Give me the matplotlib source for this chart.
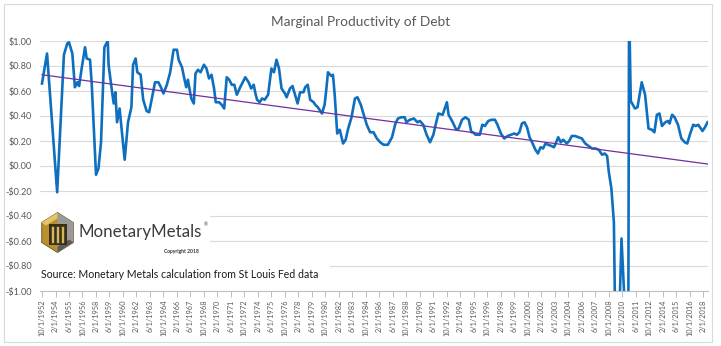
import numpy as np
import pandas as pd
import matplotlib
matplotlib.use("Agg")
import matplotlib.pyplot as plt
from matplotlib.patches import Rectangle, Polygon
from matplotlib import font_manager

plt.rcParams['font.family'] = ['Lato', 'DejaVu Sans']

# Marginal productivity of debt, dollars of GDP per dollar of new debt
months = [
    "1952-10", "1953-04", "1954-04", "1954-12", "1955-04", "1955-06", "1955-10",
    "1956-01", "1956-04", "1956-06", "1956-09", "1957-01", "1957-03", "1957-07",
    "1957-09", "1958-02", "1958-05", "1958-08", "1958-12", "1959-04", "1959-05",
    "1959-08", "1959-11", "1960-01", "1960-03", "1960-06", "1960-12", "1961-04",
    "1961-08", "1961-10", "1962-01", "1962-03", "1962-07", "1962-10", "1963-02",
    "1963-05", "1963-08", "1963-12", "1964-04", "1964-07", "1964-10", "1965-02",
    "1965-06", "1965-10", "1966-02", "1966-04", "1966-08", "1966-11", "1967-01",
    "1967-03", "1967-07", "1967-10", "1967-12", "1968-03", "1968-06", "1968-10",
    "1969-01", "1969-04", "1969-07", "1969-10", "1969-12", "1970-04", "1970-07",
    "1970-10", "1971-01", "1971-04", "1971-07", "1971-10", "1972-01", "1972-05",
    "1972-11", "1973-03", "1973-06", "1973-09", "1973-11", "1974-01", "1974-04",
    "1974-07", "1974-10", "1975-02", "1975-06", "1975-09", "1975-12", "1976-03",
    "1976-06", "1976-10", "1976-12", "1977-04", "1977-07", "1977-10", "1978-01",
    "1978-04", "1978-08", "1978-10", "1979-01", "1979-04", "1979-08", "1979-10",
    "1980-01", "1980-06", "1980-09", "1980-11", "1981-01", "1981-05", "1981-07",
    "1981-09", "1981-12", "1982-03", "1982-07", "1982-10", "1983-01", "1983-05",
    "1983-09", "1983-12", "1984-04", "1984-07", "1984-11", "1985-03", "1985-07",
    "1985-11", "1986-03", "1986-07", "1986-12", "1987-05", "1987-09", "1987-12",
    "1988-04", "1988-08", "1988-10", "1989-02", "1989-07", "1989-11", "1990-02",
    "1990-06", "1990-10", "1991-02", "1991-06", "1991-09", "1991-12", "1992-05",
    "1992-08", "1992-10", "1992-12", "1993-05", "1993-09", "1993-12", "1994-04",
    "1994-08", "1994-12", "1995-03", "1995-05", "1995-08", "1995-11", "1996-01",
    "1996-04", "1996-07", "1996-11", "1997-03", "1997-07", "1997-10", "1998-02",
    "1998-06", "1998-10", "1999-02", "1999-06", "1999-09", "1999-12", "2000-03",
    "2000-06", "2000-09", "2000-12", "2001-03", "2001-07", "2001-10", "2002-01",
    "2002-04", "2002-07", "2002-10", "2003-02", "2003-05", "2003-07", "2003-10",
    "2004-01", "2004-04", "2004-08", "2004-11", "2005-02", "2005-06", "2005-10",
    "2006-02", "2006-06", "2006-10", "2007-02", "2007-06", "2007-10", "2008-02",
    "2008-05", "2008-08", "2008-10", "2009-01", "2009-04", "2009-06", "2009-09",
    "2009-10", "2010-01", "2010-04", "2010-07", "2010-09", "2010-10", "2010-12",
    "2011-05", "2011-08", "2012-01", "2012-05", "2012-09", "2013-01", "2013-04",
    "2013-07", "2013-10", "2014-01", "2014-05", "2014-08", "2014-10", "2015-01",
    "2015-04", "2015-08", "2015-12", "2016-04", "2016-07", "2016-10", "2017-02",
    "2017-05", "2017-08", "2018-01", "2018-04", "2018-07",
]
mpd = [
    0.66, 0.90, -0.21, 0.89, 0.98, 0.99, 0.90,
    0.63, 0.67, 0.64, 0.78, 0.95, 0.86, 0.85,
    0.65, -0.07, -0.02, 0.19, 0.95, 1.00, 0.81,
    0.65, 0.50, 0.59, 0.35, 0.46, 0.05, 0.35,
    0.47, 0.81, 0.86, 0.75, 0.73, 0.53, 0.44,
    0.43, 0.53, 0.67, 0.67, 0.63, 0.58, 0.65,
    0.75, 0.93, 0.93, 0.85, 0.79, 0.69, 0.63,
    0.69, 0.54, 0.50, 0.74, 0.77, 0.75, 0.81,
    0.78, 0.70, 0.73, 0.62, 0.51, 0.51, 0.49,
    0.46, 0.71, 0.69, 0.65, 0.65, 0.57, 0.63,
    0.71, 0.67, 0.62, 0.65, 0.58, 0.53, 0.51,
    0.54, 0.53, 0.57, 0.78, 0.75, 0.85, 0.78,
    0.62, 0.58, 0.55, 0.62, 0.64, 0.57, 0.50,
    0.59, 0.59, 0.63, 0.65, 0.53, 0.51, 0.49,
    0.47, 0.42, 0.49, 0.61, 0.75, 0.72, 0.73,
    0.57, 0.26, 0.29, 0.18, 0.21, 0.30, 0.39,
    0.54, 0.55, 0.49, 0.42, 0.33, 0.27, 0.27,
    0.22, 0.19, 0.17, 0.17, 0.23, 0.34, 0.38,
    0.39, 0.39, 0.35, 0.37, 0.38, 0.35, 0.36,
    0.33, 0.25, 0.19, 0.25, 0.34, 0.42, 0.41,
    0.47, 0.51, 0.41, 0.35, 0.29, 0.30, 0.37,
    0.39, 0.37, 0.27, 0.27, 0.25, 0.25, 0.25,
    0.33, 0.32, 0.36, 0.37, 0.37, 0.33, 0.26,
    0.22, 0.24, 0.25, 0.26, 0.25, 0.27, 0.34,
    0.35, 0.31, 0.23, 0.19, 0.13, 0.10, 0.15,
    0.14, 0.18, 0.17, 0.16, 0.15, 0.18, 0.23,
    0.19, 0.21, 0.18, 0.20, 0.24, 0.24, 0.23,
    0.22, 0.18, 0.16, 0.14, 0.14, 0.13, 0.09,
    0.10, 0.08, -0.05, -0.18, -0.45, -1.50, -1.50,
    -1.30, -0.58, -1.00, -1.50, -1.50, 1.30, 0.52,
    0.46, 0.47, 0.67, 0.57, 0.30, 0.29, 0.27,
    0.41, 0.42, 0.32, 0.35, 0.36, 0.34, 0.41,
    0.39, 0.33, 0.22, 0.19, 0.18, 0.25, 0.33,
    0.32, 0.33, 0.28, 0.31, 0.35,
]
# linear trend of the series, value at first and last observation
trend_start = 0.73
trend_end = 0.016

y_ticks = [-1.0, -0.8, -0.6, -0.4, -0.2, 0.0, 0.2, 0.4, 0.6, 0.8, 1.0]
x_tick_first = "1952-10-01"
x_tick_count = 50

dates = pd.to_datetime(months)
tick_dates = pd.date_range(x_tick_first, periods=x_tick_count, freq="16MS")

# narrow face for the crowded date labels if one is around
installed = {f.name for f in font_manager.fontManager.ttflist}
narrow = "Liberation Sans Narrow" if "Liberation Sans Narrow" in installed else "Lato"
x_lab_size = 6.7 if narrow != "Lato" else 5.3

W, H = 721, 346
fig = plt.figure(figsize=(W / 100, H / 100), dpi=100)
ax = fig.add_axes([40 / W, 1 - 291 / H, 668 / W, 250 / H])

grey_txt = "#595959"
ax.plot(dates, mpd, color="#0f6fbf", lw=1.9, solid_joinstyle="round", zorder=3)
ax.plot([dates[0], dates[-1]], [trend_start, trend_end], color="#7030a0", lw=0.9, zorder=4)

ax.set_ylim(-1, 1)
ax.set_xlim(pd.Timestamp("1952-07-21"), pd.Timestamp("2018-07-19"))
ax.set_yticks(y_ticks)
ax.set_yticklabels([("-$%.2f" % abs(v)) if v < 0 else ("$%.2f" % v) for v in y_ticks])
ax.set_xticks(tick_dates)
ax.set_xticklabels([f"{d.month}/1/{d.year}" for d in tick_dates], rotation=90,
                   family=narrow)
ax.yaxis.grid(True, color="#d9d9d9", lw=0.8)
ax.set_axisbelow(True)
for s in ["top", "right", "left"]:
    ax.spines[s].set_visible(False)
ax.spines["bottom"].set_color("#bfbfbf")
ax.spines["bottom"].set_linewidth(0.8)
ax.tick_params(axis="y", length=0, labelsize=6.6, labelcolor=grey_txt, pad=6)
ax.tick_params(axis="x", length=4, width=0.7, color="#bfbfbf", labelsize=x_lab_size,
               labelcolor=grey_txt, pad=2)

# overlay in pixel coordinates for border, title, logo and source note
ov = fig.add_axes([0, 0, 1, 1], zorder=5)
ov.set_xlim(0, W)
ov.set_ylim(H, 0)
ov.axis("off")
ov.patch.set_alpha(0)

ov.add_patch(Rectangle((4, 4), 708, 338, fill=False, ec="#d9d9d9", lw=0.8))
ov.text(361, 22, "Marginal Productivity of Debt", ha="center", va="center",
        fontsize=9.8, color=grey_txt)

ov.add_patch(Rectangle((40, 205), 170, 53, fc="white", ec="none"))
ov.add_patch(Rectangle((40, 260), 290, 29, fc="white", ec="none"))

# hexagon logo
cx, cy, hw, hh = 57.5, 232.5, 15.8, 20
hexagon = [(cx, cy - hh), (cx + hw, cy - hh / 2), (cx + hw, cy + hh / 2),
           (cx, cy + hh), (cx - hw, cy + hh / 2), (cx - hw, cy - hh / 2)]
ov.add_patch(Polygon(hexagon, closed=True, fc="#b8912e", ec="#6b5418", lw=0.6))
ov.add_patch(Polygon([(cx, cy - hh), (cx + hw, cy - hh / 2), (cx + hw, cy + hh / 2),
                      (cx, cy + hh)], closed=True, fc="#9a9a9a", ec="none"))
ov.add_patch(Polygon([(cx - hw, cy - hh / 2), (cx, cy - hh), (cx, cy - hh + 6),
                      (cx - hw + 4, cy - hh / 2 + 3)], closed=True, fc="#e3c46a", ec="none"))
ov.add_patch(Polygon([(cx + hw, cy + hh / 2), (cx, cy + hh), (cx, cy + hh - 6),
                      (cx + hw - 4, cy + hh / 2 - 3)], closed=True, fc="#5c5c5c", ec="none"))
inner = [(cx - 9, cy - 9), (cx + 9, cy - 9), (cx + 9, cy + 12), (cx - 9, cy + 12)]
ov.add_patch(Polygon(inner, closed=True, fc="#3a2e12", ec="none"))
for bx in [cx - 6.5, cx - 1.5, cx + 3.5]:
    ov.add_patch(Rectangle((bx, cy - 7), 3, 17, fc="#d8b657", ec="#2a2a2a", lw=0.4))

ov.text(79, 237.5, "MonetaryMetals", fontsize=12.2, color="#3c3c3c", va="baseline")
ov.text(204, 225, "®", fontsize=3.5, color="#3c3c3c", va="center")
ov.text(181, 252, "Copyright 2018", fontsize=3.6, color="#333333", ha="center",
        va="center", fontweight="bold")

ov.text(41, 275, "Source: Monetary Metals calculation from St Louis Fed data",
        fontsize=7.6, color="#1a1a1a", va="center")

fig.savefig("out.png", dpi=100)
